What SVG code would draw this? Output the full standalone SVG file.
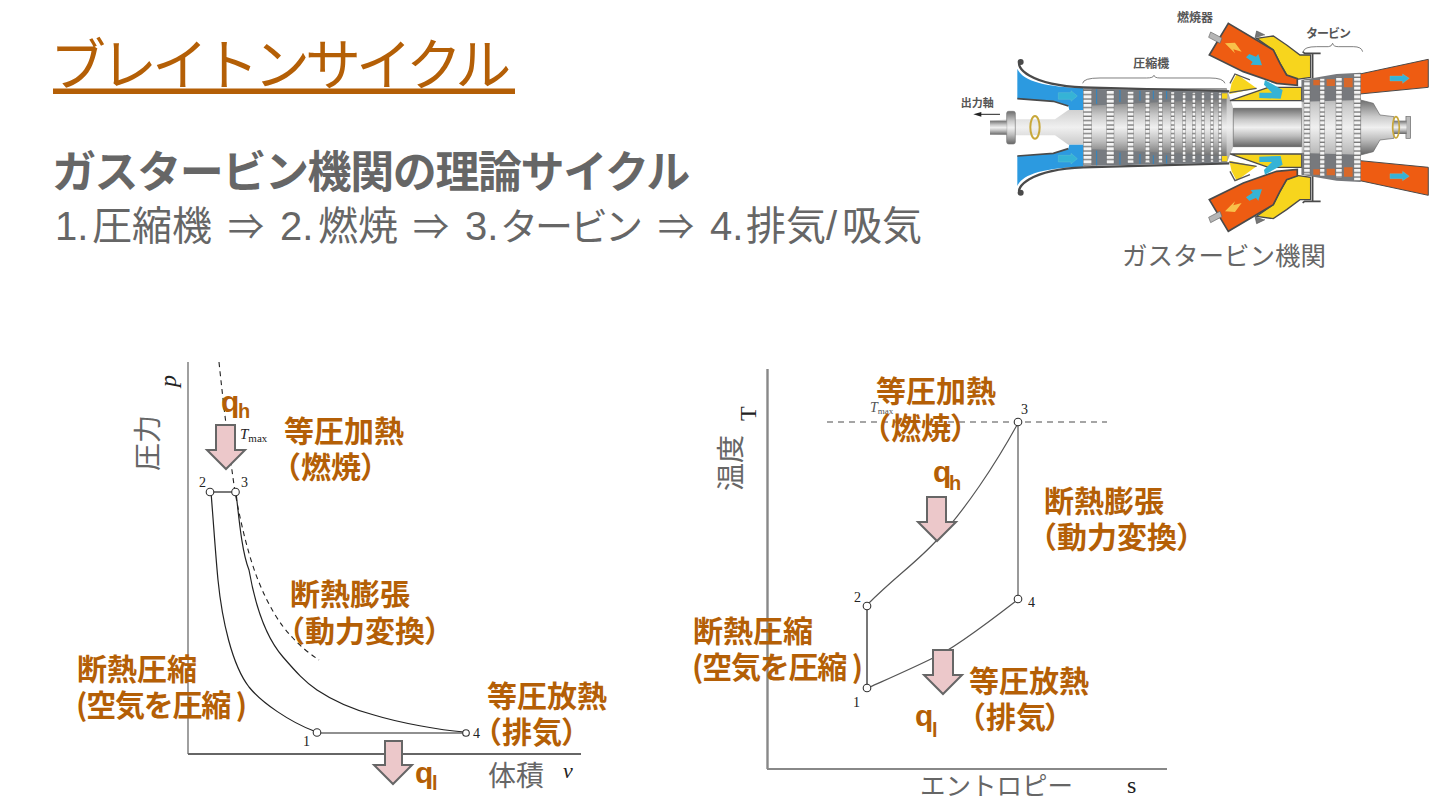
<svg xmlns="http://www.w3.org/2000/svg" width="1440" height="810" viewBox="0 0 1440 810">
<style>
text{font-family:"Liberation Sans","Noto Sans CJK JP",sans-serif}
.cjk{font-family:"Noto Sans CJK JP",sans-serif}
.or{fill:#b45f06;font-weight:700;font-size:30px;font-family:"Noto Sans CJK JP",sans-serif}
.q{fill:#b45f06;font-weight:700;font-size:30px}
.sub{fill:#b45f06;font-weight:700;font-size:20px}
.gr{fill:#666;font-size:28px;font-family:"Noto Sans CJK JP",sans-serif}
.n{font-family:"Liberation Serif",serif;font-size:14px;fill:#222}
.it{font-family:"Liberation Serif",serif;font-style:italic;fill:#222}
.c{fill:none;stroke:#222;stroke-width:1.2}
.d{fill:none;stroke:#222;stroke-width:1.1;stroke-dasharray:5 4}
.ax{fill:none;stroke:#888;stroke-width:1.6}
.pt{fill:#fff;stroke:#333;stroke-width:1.1}
.arr{fill:#ecc8ca;stroke:#666;stroke-width:2}
.lbl{font-family:"Noto Sans CJK JP",sans-serif;font-size:36px;font-weight:700;fill:#555}
</style>
<defs>
<linearGradient id="rotor" x1="0" y1="0" x2="0" y2="1"><stop offset="0" stop-color="#6f6f6f"/><stop offset=".3" stop-color="#c9c9c9"/><stop offset=".5" stop-color="#f0f0f0"/><stop offset=".72" stop-color="#bdbdbd"/><stop offset="1" stop-color="#666"/></linearGradient>
<pattern id="blade" width="20" height="13" patternUnits="userSpaceOnUse"><rect width="20" height="13" fill="#f4f4f4"/><rect y="9" width="20" height="4" fill="#777"/></pattern>
<g id="half">
<path d="M232 206C245 235 290 260 430 264L430 330L388 330L385 318L340 304L232 296Z" fill="#2c9ae0"/>
<path d="M240 184C226 200 265 255 430 262L868 274" fill="none" stroke="#4a4a4a" stroke-width="7"/>
<circle cx="242" cy="186" r="9" fill="#4a4a4a"/>
<path d="M232 296L340 304L385 318" fill="none" stroke="#4a4a4a" stroke-width="5"/>
<path d="M430 266L860 276L860 296L430 318Z" fill="#777b80"/>
<g fill="none" stroke="#2d86c4" stroke-width="3"><path d="M470 268V312M540 270V306M600 272V302M640 272V298M680 273V298"/></g>
<path d="M890 222L875 250L868 282L950 265Z" fill="#f7d51d"/>
<path d="M870 250L885 222L930 240M868 278L950 265" fill="none" stroke="#555" stroke-width="4"/>
<path d="M870 302L985 262L1085 262L1085 302Z" fill="#f7d51d" stroke="#4a4a4a" stroke-width="4"/>
<path d="M950 115L1000 108L1040 135L1080 165L1112 165L1112 232L1070 238L1040 225L1020 190L1000 150Z" fill="#f7d51d" stroke="#4a4a4a" stroke-width="4"/>
<path d="M945 115L950 93L975 105" fill="#777" stroke="#555" stroke-width="2"/>
<path d="M865 70L808 165L910 215L1010 250L1072 256L1072 236L1040 225L1020 190L1000 150Z" fill="#ee5c12" stroke="#4a4a4a" stroke-width="5"/>
<path d="M855 130L885 128L905 155L880 148L885 160Z" fill="#f8c14a"/>
<path d="M812 96L846 114L840 130L806 112Z" fill="#b5b5b5" stroke="#666" stroke-width="2"/>
<path d="M1085 240L1120 234L1190 222L1262 218L1262 300L1085 305Z" fill="#77797d"/>
<path d="M1120 240H1140V256H1120ZM1160 238H1185V258H1160ZM1212 234H1238V262H1212Z" fill="#d8682a"/>
<path d="M1260 222L1465 178V262L1260 282Z" fill="#ee5c12" stroke="#4a4a4a" stroke-width="3"/>
<path d="M1088 155L1094 160H1142M1118 160V235" fill="none" stroke="#4a4a4a" stroke-width="5"/>
<g fill="#35b3d6">
<path d="M355 278H393V272L412 288L393 304V298H355Z" stroke="#7cc" stroke-width="1"/>
<path d="M918 172L928 162L948 170L955 162L966 196L932 194L938 186Z"/>
<path d="M975 240L1028 270L1022 296L958 294V278L996 278L972 254Z"/>
<path d="M1350 228H1388V222L1408 235L1388 250V243H1350Z" stroke="#7cc" stroke-width="1"/>
</g>
</g>
</defs>

<g id="title">
<text class="cjk" x="50" y="85" font-size="56" letter-spacing="-5" fill="#b45f06">ブレイトンサイクル</text>
<rect x="53" y="88.500" width="462" height="5.500" fill="#b45f06"/>
</g>
<g id="subtitle">
<text class="cjk" x="52" y="188" font-size="44" letter-spacing="-1.4" font-weight="700" fill="#666">ガスタービン機関の理論サイクル</text>
<text x="55" y="240" font-size="40" fill="#666">1.<tspan x="92">圧縮機</tspan><tspan x="228" font-size="36">⇒</tspan><tspan x="280">2.</tspan><tspan x="318">燃焼</tspan><tspan x="413" font-size="36">⇒</tspan><tspan x="465">3.</tspan><tspan x="500" font-size="38" letter-spacing="-3">タービン</tspan><tspan x="658" font-size="36">⇒</tspan><tspan x="710">4.</tspan><tspan x="746">排気</tspan><tspan x="826">/</tspan><tspan x="842">吸気</tspan></text>
</g>

<g id="engine">
<g transform="translate(940 0) scale(.3333)">
<path d="M150 362L200 358H345L385 330H430V264H860L880 325H1085V240L1262 220V544L1085 524V440H880L860 490H430V434H385L345 406H200L150 402Z" fill="url(#rotor)"/>
<path d="M1262 300L1300 310L1320 345L1362 350V415L1320 420L1300 455L1262 465Z" fill="url(#rotor)" stroke="#666" stroke-width="2"/>
<rect x="1398" y="350" width="14" height="65" fill="#bbb" stroke="#666" stroke-width="2"/>
<path d="M1360 362H1400V402H1360Z" fill="url(#rotor)"/>
<rect x="200" y="334" width="26" height="98" rx="6" fill="url(#rotor)" stroke="#777" stroke-width="2"/>
<rect x="150" y="362" width="50" height="42" fill="url(#rotor)"/>
<ellipse cx="285" cy="382" rx="14" ry="34" fill="none" stroke="#c8a83a" stroke-width="6"/>
<ellipse cx="1368" cy="382" rx="10" ry="32" fill="none" stroke="#c8a83a" stroke-width="5"/>
<path d="M880 325H1085V440H880Z" fill="url(#rotor)" stroke="#666" stroke-width="2"/>
<path d="M430 316L860 290V475L430 448Z" fill="url(#rotor)"/>
<use href="#half"/>
<use href="#half" transform="matrix(1 0 0 -1 0 764)"/>
<g fill="url(#blade)" stroke="#666" stroke-width="1">
<rect x="430" y="268" width="25" height="228"/><rect x="500" y="272" width="22" height="220"/><rect x="563" y="275" width="18" height="214"/><rect x="616" y="276" width="13" height="212"/><rect x="656" y="276" width="11" height="212"/><rect x="693" y="276" width="10" height="212"/><rect x="728" y="278" width="9" height="208"/><rect x="757" y="278" width="9" height="208"/><rect x="785" y="278" width="8" height="208"/><rect x="812" y="278" width="8" height="208"/><rect x="836" y="278" width="8" height="208"/>
<rect x="1092" y="240" width="18" height="284"/><rect x="1140" y="236" width="14" height="292"/><rect x="1188" y="230" width="18" height="304"/><rect x="1242" y="222" width="20" height="320"/>
</g>
<g fill="#f7d51d"><rect x="846" y="280" width="16" height="16"/><rect x="846" y="468" width="16" height="16"/></g>
<path d="M428 250Q430 234 480 234H620Q640 234 642 226Q644 234 660 234H810Q850 234 855 250M1090 155Q1092 140 1130 140H1165Q1175 140 1178 130Q1180 140 1195 140H1240Q1265 140 1268 155" fill="none" stroke="#666" stroke-width="2.500"/>
<path d="M180 343H112" fill="none" stroke="#222" stroke-width="3"/><path d="M100 343L124 336V350Z" fill="#222"/>
<text class="lbl" x="62" y="320" style="font-size:33px">出力軸</text>
<text class="lbl" x="580" y="205">圧縮機</text>
<text class="lbl" x="711" y="66">燃焼器</text>
<text class="lbl" x="1098" y="114" letter-spacing="-3">タービン</text>
</g>
<text class="cjk" x="1122" y="265" font-size="25.500" fill="#666">ガスタービン機関</text>
</g>

<g id="connectors">
<path class="ax" d="M188 362V754"/>
<path d="M188 754H581" fill="none" stroke="#666" stroke-width="1.800"/>
<path class="d" d="M219 362C224 410 229 450 235 492C242 530 250 560 258 580C268 605 280 625 292 637C300 646 310 654 319 660"/>
<path class="c" d="M210 492H235"/>
<path class="c" d="M211 492C214 530 216 560 218 580C222 620 232 665 249 687C262 703 290 722 314 731"/>
<path class="c" d="M236 492C240 530 243 555 249 570C256 610 268 640 283 657C296 672 305 682 317 690C335 702 355 710 374 715C400 723 440 730 464 732"/>
<path class="c" d="M317 733H466"/>
<path class="ax" d="M767.500 369V769" style="stroke-width:2.400"/>
<path class="ax" d="M767 769H1167" style="stroke-width:2"/>
<path d="M827 422H1107" fill="none" stroke="#888" stroke-width="1.600" stroke-dasharray="6 5"/>
<path class="c" style="stroke:#555" d="M868 604C895 577 917 562 937 540C965 510 995 465 1017 425"/>
<path d="M1018 425V597" fill="none" stroke="#555" stroke-width="1.200"/>
<path d="M867 608V686" fill="none" stroke="#777" stroke-width="2"/>
<path class="c" style="stroke:#555" d="M870 687C890 678 915 667 933 658C950 651 985 625 1016 601"/>
</g>

<g id="node-left-points">
<circle class="pt" cx="210" cy="492" r="3.800"/><circle class="pt" cx="235.500" cy="492" r="3.800"/><circle class="pt" cx="317" cy="732.500" r="3.800"/><circle class="pt" cx="466" cy="733" r="3.300"/>
<text class="n" x="199" y="487">2</text><text class="n" x="241" y="487">3</text><text class="n" x="303" y="746">1</text><text class="n" x="473" y="738">4</text>
<text class="it" x="240" y="439" font-size="15">T<tspan font-style="normal" font-size="11" dy="3">max</tspan></text>
</g>
<g id="node-right-points">
<circle class="pt" cx="1018" cy="422" r="3.800"/><circle class="pt" cx="1018" cy="599" r="3.800"/><circle class="pt" cx="867" cy="606" r="3.800"/><circle class="pt" cx="867" cy="688" r="3.800"/>
<text class="n" x="1021" y="414">3</text><text class="n" x="1028" y="607">4</text><text class="n" x="854" y="602">2</text><text class="n" x="853" y="707">1</text>
<text class="it" x="870" y="412" font-size="14" style="fill:#555">T<tspan font-style="normal" font-size="9" dy="2">max</tspan></text>
</g>

<g id="axis-labels">
<text class="gr" transform="translate(158 471) rotate(-90)">圧力</text>
<text class="it" font-size="24" transform="translate(176 387) rotate(-90)">p</text>
<text class="gr" x="488" y="786">体積</text>
<text class="it" x="563" y="778" font-size="22">v</text>
<text class="gr" transform="translate(741 491) rotate(-90)">温度</text>
<text class="it" font-size="24" transform="translate(756 421) rotate(-90)" style="font-style:normal">T</text>
<text class="cjk" x="920" y="795" font-size="25.500" fill="#666">エントロピー</text>
<text class="it" x="1127" y="793" font-size="24" style="font-style:normal">s</text>
</g>

<g id="heat-arrows">
<path class="arr" d="M216 425H235V450H245L226 469L207 450H216Z"/>
<path class="arr" d="M385 741H402V765H412L393 784L374 765H385Z"/>
<path class="arr" d="M927 497H946V522H956L937 541L918 522H927Z"/>
<path class="arr" d="M933 650H953V675H962L943 694L924 675H933Z"/>
</g>

<g id="labels-left">
<text class="q" x="221" y="412">q</text><text class="sub" x="238" y="418">h</text>
<text class="q" x="415" y="783">q</text><text class="sub" x="432" y="790">l</text>
<text class="or" x="284" y="442">等圧加熱</text><text class="or" x="271" y="478">（<tspan x="301">燃焼</tspan><tspan x="360">）</tspan></text>
<text class="or" x="290" y="605">断熱膨張</text><text class="or" x="275" y="642">（<tspan x="305">動力変換</tspan><tspan x="424">）</tspan></text>
<text class="or" x="77" y="680">断熱圧縮</text><text class="or" x="76" y="716" textLength="171">(空気を圧縮 )</text>
<text class="or" x="487" y="707">等圧放熱</text><text class="or" x="472" y="743">（<tspan x="502">排気</tspan><tspan x="561">）</tspan></text>
</g>
<g id="labels-right">
<text class="q" x="933" y="482">q</text><text class="sub" x="949" y="490">h</text>
<text class="q" x="915" y="726">q</text><text class="sub" x="932" y="737">l</text>
<text class="or" x="876" y="402">等圧加熱</text><text class="or" x="861" y="439">（<tspan x="891">燃焼</tspan><tspan x="950">）</tspan></text>
<text class="or" x="1044" y="512">断熱膨張</text><text class="or" x="1027" y="548">（<tspan x="1057">動力変換</tspan><tspan x="1176">）</tspan></text>
<text class="or" x="693" y="642">断熱圧縮</text><text class="or" x="692" y="678" textLength="171">(空気を圧縮 )</text>
<text class="or" x="969" y="692">等圧放熱</text><text class="or" x="956" y="728">（<tspan x="986">排気</tspan><tspan x="1044">）</tspan></text>
</g>
</svg>
